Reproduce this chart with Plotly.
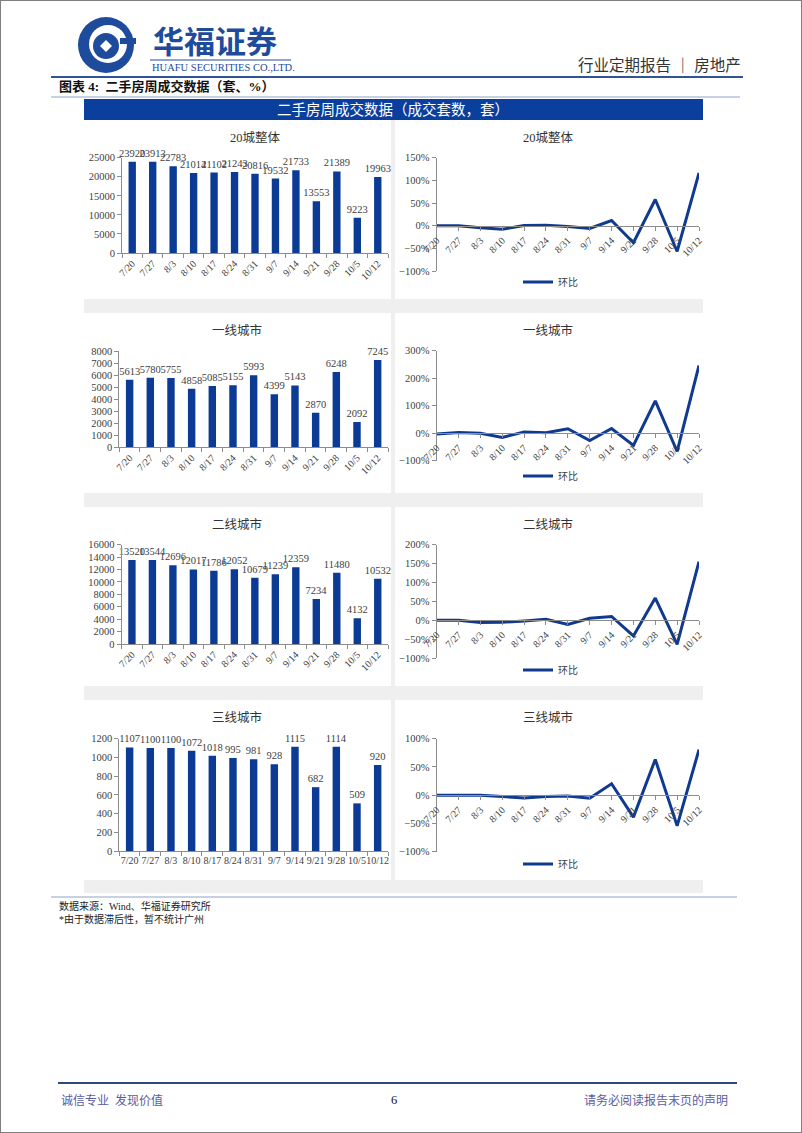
import plotly.graph_objects as go

# ---------------- data ----------------
DATES = ["7/20", "7/27", "8/3", "8/10", "8/17", "8/24", "8/31", "9/7", "9/14", "9/21", "9/28", "10/5", "10/12"]

VOL_20 = [23920, 23913, 22783, 21014, 21102, 21243, 20816, 19532, 21733, 13553, 21389, 9223, 19963]
VOL_T1 = [5613, 5780, 5755, 4858, 5085, 5155, 5993, 4399, 5143, 2870, 6248, 2092, 7245]
VOL_T2 = [13520, 13544, 12696, 12017, 11786, 12052, 10679, 11239, 12359, 7234, 11480, 4132, 10532]
VOL_T3 = [1107, 1100, 1100, 1072, 1018, 995, 981, 928, 1115, 682, 1114, 509, 920]

MOM_20 = [0.0, 0.0, -0.047, -0.078, 0.004, 0.007, -0.020, -0.062, 0.113, -0.376, 0.578, -0.569, 1.164]
MOM_T1 = [-0.03, 0.030, -0.004, -0.156, 0.047, 0.014, 0.163, -0.266, 0.169, -0.442, 1.177, -0.665, 2.463]
MOM_T2 = [0.0, 0.002, -0.063, -0.053, -0.019, 0.023, -0.114, 0.052, 0.100, -0.415, 0.587, -0.640, 1.549]
MOM_T3 = [0.0, -0.006, 0.0, -0.025, -0.050, -0.023, -0.014, -0.054, 0.202, -0.388, 0.633, -0.543, 0.807]

TITLES = ["20城整体", "一线城市", "二线城市", "三线城市"]
LEGEND_NAME = "环比"

# ---------------- style / layout ----------------
W, H = 802, 1133
def fx(px):
    return px / W
def fy(py):
    return 1 - py / H

FONT = "Liberation Serif, Noto Sans CJK SC, serif"
BAR_COLOR = "#0c3b96"
LINE_COLOR = "#0f3a90"
AXIS_COLOR = "#8c8c8c"
TXT = "#404040"

bar_specs = [
    dict(x0=122, x1=388, yt=157.7, yb=253.0, rng=[0, 25000], dtick=5000, angle=-45),
    dict(x0=119.3, x1=388, yt=351.0, yb=447.3, rng=[0, 8000], dtick=1000, angle=-45),
    dict(x0=121.7, x1=388, yt=544.7, yb=644.0, rng=[0, 16000], dtick=2000, angle=-45),
    dict(x0=119.3, x1=388, yt=738.7, yb=851.0, rng=[0, 1200], dtick=200, angle=0),
]
line_specs = [
    dict(x0=436.7, x1=699, yt=157.7, yb=271.0, rng=[-1, 1.5], dtick=0.5, leg=282),
    dict(x0=436.7, x1=699, yt=350.7, yb=460.7, rng=[-1, 3], dtick=1, leg=476),
    dict(x0=436.7, x1=699, yt=544.7, yb=658.0, rng=[-1, 2], dtick=0.5, leg=670),
    dict(x0=436.7, x1=699, yt=738.7, yb=851.7, rng=[-1, 1], dtick=0.5, leg=864),
]
left_title_x = [255, 237, 237, 237]
title_y = [137, 330, 524, 717]
right_title_x = 548

vols = [VOL_20, VOL_T1, VOL_T2, VOL_T3]
moms = [MOM_20, MOM_T1, MOM_T2, MOM_T3]

fig = go.Figure()
layout = dict(
    template="none",
    width=W, height=H, margin=dict(l=0, r=0, t=0, b=0, pad=0, autoexpand=False),
    paper_bgcolor="white", plot_bgcolor="rgba(0,0,0,0)",
    font=dict(family=FONT, color=TXT, size=10),
    bargap=0.6, showlegend=True,
)

def ax_id(n):
    return "" if n == 1 else str(n)

for i in range(4):
    n = i + 1
    s = bar_specs[i]
    fig.add_trace(go.Bar(
        x=DATES, y=vols[i], xaxis="x" + ax_id(n), yaxis="y" + ax_id(n),
        marker=dict(color=BAR_COLOR, line=dict(width=0)), width=0.36,
        texttemplate="%{y:d}", textposition="outside",
        cliponaxis=False, constraintext="none",
        textfont=dict(family=FONT, size=10.5, color=TXT),
        showlegend=False, hoverinfo="skip",
    ))
    layout["xaxis" + ax_id(n)] = dict(
        domain=[fx(s["x0"]), fx(s["x1"])], anchor="y" + ax_id(n), type="category",
        range=[-0.5, 12.5], showline=True, linecolor=AXIS_COLOR, linewidth=1,
        ticks="outside", tickson="boundaries", ticklen=4, tickcolor=AXIS_COLOR,
        tickangle=s["angle"], tickfont=dict(family=FONT, size=10, color=TXT),
        showgrid=False, zeroline=False, fixedrange=True, automargin=False,
    )
    layout["yaxis" + ax_id(n)] = dict(
        domain=[fy(s["yb"]), fy(s["yt"])], anchor="x" + ax_id(n),
        range=s["rng"], dtick=s["dtick"], tick0=0, tickformat="d",
        showline=True, linecolor=AXIS_COLOR,
        ticks="outside", ticklen=4, tickcolor=AXIS_COLOR, showgrid=False, zeroline=False,
        tickfont=dict(family=FONT, size=10.5, color=TXT), fixedrange=True, automargin=False,
    )

for i in range(4):
    n = i + 5
    s = line_specs[i]
    lo, hi = s["rng"]
    zero_px = s["yb"] - (0 - lo) / (hi - lo) * (s["yb"] - s["yt"])
    leg = "legend" + ("" if i == 0 else str(i + 1))
    fig.add_trace(go.Scatter(
        x=DATES, y=moms[i], mode="lines", name=LEGEND_NAME,
        xaxis="x" + str(n), yaxis="y" + str(n), legend=leg,
        line=dict(color=LINE_COLOR, width=3), cliponaxis=False, hoverinfo="skip",
    ))
    layout["xaxis" + str(n)] = dict(
        domain=[fx(s["x0"]), fx(s["x1"])], anchor="free", position=fy(zero_px),
        type="category", range=[0, 12], showline=True, linecolor=AXIS_COLOR,
        ticks="outside", ticklen=4, tickcolor=AXIS_COLOR, tickangle=-45,
        tickfont=dict(family=FONT, size=10, color=TXT),
        showgrid=False, zeroline=False, fixedrange=True, automargin=False,
    )
    layout["yaxis" + str(n)] = dict(
        domain=[fy(s["yb"]), fy(s["yt"])], anchor="x" + str(n),
        range=s["rng"], dtick=s["dtick"], tick0=0, tickformat=".0%",
        showline=True, linecolor=AXIS_COLOR, ticks="outside", ticklen=4, tickcolor=AXIS_COLOR,
        showgrid=False, zeroline=False,
        tickfont=dict(family=FONT, size=10.5, color=TXT), fixedrange=True, automargin=False,
    )
    layout[leg] = dict(
        x=fx(518), y=fy(s["leg"]), xanchor="left", yanchor="middle",
        bgcolor="rgba(0,0,0,0)", font=dict(family=FONT, size=10, color=TXT),
        itemwidth=30, orientation="h",
    )

fig.update_layout(**layout)

# ---------------- page decoration ----------------
shapes = []
def rect(x0, y0, x1, y1, fill, line_color=None, lw=0, layer="below"):
    shapes.append(dict(type="rect", xref="paper", yref="paper",
                       x0=fx(x0), x1=fx(x1), y0=fy(y1), y1=fy(y0),
                       fillcolor=fill, line=dict(color=line_color or fill, width=lw), layer=layer))
def hline(x0, x1, y, color, w):
    shapes.append(dict(type="line", xref="paper", yref="paper",
                       x0=fx(x0), x1=fx(x1), y0=fy(y), y1=fy(y),
                       line=dict(color=color, width=w), layer="above"))
def circle(cx, cy, r, fill):
    shapes.append(dict(type="circle", xref="paper", yref="paper",
                       x0=fx(cx - r), x1=fx(cx + r), y0=fy(cy + r), y1=fy(cy - r),
                       fillcolor=fill, line=dict(width=0), layer="above"))

# chart area background and panels
rect(84, 120, 703, 893, "#efefef")
rows = [(120, 299), (313, 493), (507, 686), (700, 880)]
for (a, b) in rows:
    rect(84, a, 391, b, "white")
    rect(395, a, 703, b, "white")

# title bar
rect(84, 99, 703, 120, "#0b3f9e")

# lines
hline(51, 743, 77, "#2f5597", 2)
hline(51, 740, 97, "#8fa3c8", 1)
hline(51, 737, 897, "#8fa3c8", 1)
hline(58, 737, 1083, "#2b4a7a", 2)
hline(150, 291, 60, "#1e4b9c", 1)

# logo
circle(106, 45, 28, "#1e4b9c")
circle(108, 44, 19, "white")
circle(106, 46, 13, "#1e4b9c")
shapes.append(dict(type="path", xref="paper", yref="paper",
                   path=f"M {fx(106)} {fy(40)} L {fx(112)} {fy(46)} L {fx(106)} {fy(52)} L {fx(100)} {fy(46)} Z",
                   fillcolor="white", line=dict(width=0), layer="above"))
rect(120, 38, 136, 44, "#1e4b9c", layer="above")

# page border
shapes.append(dict(type="rect", xref="paper", yref="paper", x0=0, x1=1, y0=0, y1=1,
                   line=dict(color="#7f7f7f", width=2), fillcolor="rgba(0,0,0,0)", layer="above"))

annotations = []
def text(x, y, s, size, color=TXT, anchor="center", bold=False, family=FONT):
    if bold:
        s = "<b>" + s + "</b>"
    annotations.append(dict(x=fx(x), y=fy(y), xref="paper", yref="paper", text=s, showarrow=False,
                            xanchor=anchor, yanchor="middle",
                            font=dict(family=family, size=size, color=color)))

text(151, 39, "华福证券", 31, color="#1e4b9c", anchor="left", bold=True,
     family="Noto Sans CJK SC, sans-serif")
text(150, 68, "HUAFU SECURITIES CO.,LTD.", 10.5, color="#1e4b9c", anchor="left")
text(743, 66, "行业定期报告 ｜ 房地产", 15.5, color="#333333", anchor="right")
text(57, 87, "图表 4:  二手房周成交数据（套、%）", 13, color="#111111", anchor="left", bold=True)
text(393, 110, "二手房周成交数据（成交套数，套）", 14.5, color="white")

for i in range(4):
    text(left_title_x[i], title_y[i], TITLES[i], 12.5, color="#333333")
    text(right_title_x, title_y[i], TITLES[i], 12.5, color="#333333")

text(57, 906, "数据来源：Wind、华福证券研究所", 10, color="#222222", anchor="left")
text(57, 919, "*由于数据滞后性，暂不统计广州", 10, color="#222222", anchor="left")

text(59, 1100, "诚信专业  发现价值", 12, color="#5b5b9e", anchor="left")
text(394, 1100, "6", 12.5, color="#111111")
text(730, 1100, "请务必阅读报告末页的声明", 12, color="#5b5b9e", anchor="right")

fig.update_layout(shapes=shapes, annotations=annotations)
fig.write_html("out.html", config={"displayModeBar": False},
               post_script="document.body.style.margin='0';document.body.style.overflow='hidden';")
